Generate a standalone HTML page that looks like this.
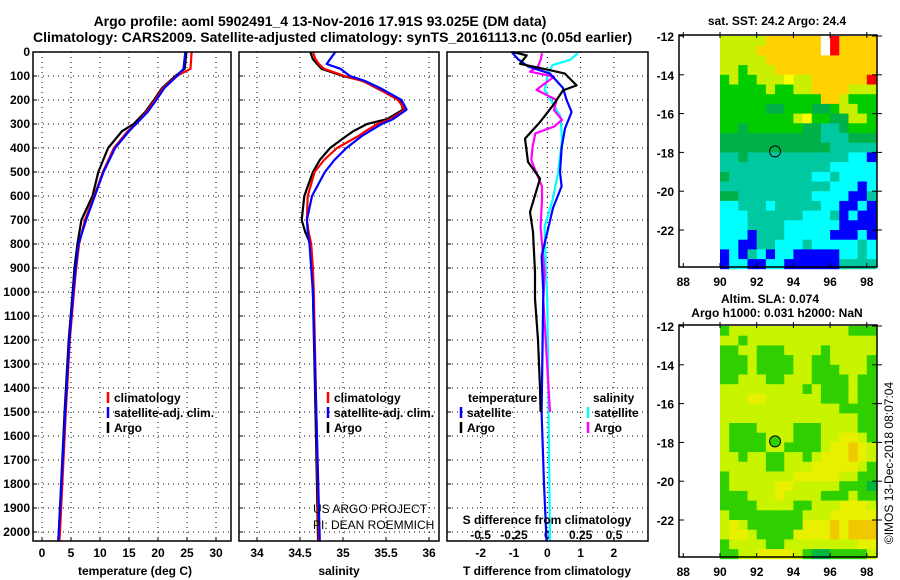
<!DOCTYPE html>
<html><head><meta charset="utf-8"><style>
body{margin:0;background:#fff}
svg{display:block;font-family:"Liberation Sans",sans-serif;font-weight:bold}
</style></head><body>
<svg id="fig" width="900" height="580" viewBox="0 0 900 580" xmlns="http://www.w3.org/2000/svg"></svg>
<script>
// ---------- data ----------
const tDepth=[0,70,100,150,200,250,300,330,400,500,600,700,800,900,1000,1200,1500,2000,2040];
const tArgo =[24.9,24.6,23.0,20.7,19.3,17.8,15.8,13.8,11.4,9.7,8.7,6.8,6.1,5.6,5.3,4.6,3.9,2.9,2.8];
const tClim =[25.8,25.6,23.2,20.9,19.5,18.0,16.2,14.8,12.4,10.5,9.0,7.4,6.4,5.9,5.5,4.8,4.1,3.1,3.0];
const tSat  =[24.7,24.4,23.3,21.1,19.7,18.2,16.2,15.0,12.6,10.6,9.1,7.6,6.3,5.8,5.4,4.7,4.0,2.9,2.8];
const sDepth=[0,30,50,70,100,120,150,200,240,280,300,330,350,400,450,500,600,700,750,800,900,1000,1500,2040];
const sArgo =[34.62,34.65,34.70,34.75,35.00,35.23,35.39,35.66,35.70,35.51,35.28,35.12,35.04,34.85,34.73,34.65,34.55,34.52,34.56,34.62,34.64,34.65,34.68,34.71];
const sClim =[34.65,34.68,34.72,34.78,35.02,35.22,35.40,35.64,35.72,35.55,35.40,35.26,35.18,34.93,34.78,34.67,34.59,34.58,34.60,34.63,34.65,34.66,34.69,34.72];
const sSat  =[34.91,34.85,34.81,34.97,35.08,35.25,35.43,35.68,35.74,35.58,35.45,35.31,35.22,35.04,34.90,34.79,34.64,34.58,34.59,34.61,34.63,34.65,34.69,34.73];
const dtArgoD=[0,14,49,76,90,139,160,222,292,361,458,528,597,667,750,917,1028,1200,1400,1500];
const dtArgo =[-1.03,-0.62,-0.82,0.08,0.53,0.88,0.47,0.17,-0.22,-0.67,-0.58,-0.22,-0.37,-0.52,-0.43,-0.37,-0.37,-0.28,-0.22,-0.2];
const dtSatD=[0,30,60,90,150,200,250,320,400,500,560,650,750,850,1000,1500,1800,2040];
const dtSat =[-1.07,-0.88,-0.58,0.08,0.47,0.58,0.73,0.53,0.43,0.38,0.43,0.17,0.0,-0.17,-0.12,-0.17,-0.1,-0.02];
const dsSatD=[5,33,54,89,158,186,269,367,506,617,728,922,1033,1500,2040];
const dsSat =[0.23,0.17,0.04,0.005,-0.02,0.01,0.1,0.11,0.08,0.04,-0.02,-0.01,0.0,0.01,0.02];
const dsArgoD=[5,33,61,82,103,144,158,200,242,283,311,339,394,450,492,561,617,728,922,1033,1500];
const dsArgo =[-0.04,-0.05,-0.07,-0.13,0.05,-0.05,-0.08,0.07,0.05,0.11,0.05,-0.09,-0.11,-0.12,-0.09,-0.04,-0.04,-0.05,-0.02,-0.03,0.02];
const sstRows=["LLLLLOOOOOOWROOOO","LLLLOOOOOOOWROOOO","LLLLLOOOOOOOOOOOO","LLGLLLOOOOOOOOOOO","GLGGLLLYLLOOOOOOR","GGGGGLGGLLOOOOLLL","GGGGGGGGGGGOOLGGG","GGGGGDDGGGDDGLLGG","GGGGGGGGLYGGDDLLG","GGDGGGGGGDDTTDGGG","DDDDDDDDDDDTTTDDD","DDDDDDDDDDDDTTTTT","TTDTTTTTTTTTTTCCB","TTTTTTTTTTTTCCCCC","DTTTTTTTTTCCTCCCC","TTTTTTTTTTTTCCCBC","DDTTTTTTTTCCCCBBT","CCTTTCTTTTTCCBBCB","CCCTTTTTTCCCTBCBB","CCCTTTTCCCCCCBBBB","CCCBTTTCCCCCBBBCB","CCBBTTCCCTCCCCCTC","BCBTCBCCBBBBBCCTC","BCCBBCCBBBBBBTTTT"];
const slaRows=["GLLLLLLLLLLLLLGGG","LLGLLLLLLLLLLLLLL","GGLLGGGLLLLGLLLLL","GGGLGGGGLLGGLLLLG","GGGLGGGGLLGGGLLLG","GGLLLGGLLLGGGGLGG","LLLLLLLLLGLGGGLGG","LLLYYLLLLLLGGGLGG","LLLLLLLLLLLLLGGGG","LLLLLLLLLLLLLLLGG","LGGGLLLLGGGLLLLGG","LGGGGLLLGGGLLYYLG","LGGGGLLGGGGLYYOYL","LLGLLGGLLGLYYYOYL","LLLLLGGLLLYYYYYLG","GLLLLLLLYYYYYLLGG","GLLLLLYYLLLLLGGGD","GGGLLLYLLLLGGGLGG","GGGGLLLLGGLLLYYYL","LGGGGGGGGLLLYYYYY","LYLGGGGGGYYYOYOOO","LYYLGGGGYYYYOYOOO","GLLLLGGLLLLLLLLYY","GGLLYYYYLGDDGGGGL"];
const depthTicks=[0,100,200,300,400,500,600,700,800,900,1000,1100,1200,1300,1400,1500,1600,1700,1800,1900,2000];
const tTicks=[0,5,10,15,20,25,30];
const sTicks=[34,34.5,35,35.5,36];
const dTTicks=[-2,-1,0,1,2];
const dSTicks=[-0.5,-0.25,0,0.25,0.5];
const latTicks=[-12,-14,-16,-18,-20,-22];
const lonTicks=[88,90,92,94,96,98];
const floatLon=93.0, floatLat=-17.95;

// ---------- scales ----------
const yD=d=>52+d*0.24;
const xT=t=>42+t*5.8;
const xS=s=>257+(s-34)*86;
const xdT=t=>547.3+t*33.3;
const xdS=s=>547.3+s*133.3;
const xLon=l=>720+(l-90)*18.35;
const yLat1=l=>36+(-12-l)*19.4;
const yLat2=l=>326+(-12-l)*19.4;

const NS="http://www.w3.org/2000/svg";
const svg=document.getElementById('fig');
function mk(tag,at,txt){const e=document.createElementNS(NS,tag);for(const k in at)e.setAttribute(k,at[k]);if(txt!==undefined)e.textContent=txt;svg.appendChild(e);return e;}
let el;

// titles
el=mk('text',{x:320,y:26,'text-anchor':'middle','font-size':14},'Argo profile: aoml 5902491_4 13-Nov-2016 17.91S 93.025E (DM data)');


el=mk('text',{x:33,y:42,'font-size':14},'Climatology: CARS2009. Satellite-adjusted climatology: synTS_20161113.nc (0.05d earlier)');



const panels=[{x0:33,x1:231,name:'temperature-panel'},{x0:239,x1:439,name:'salinity-panel'},{x0:447,x1:648,name:'difference-panel'}];
const yTop=52,yBot=541;
panels.forEach(p=>{
  depthTicks.forEach(d=>{
    el=mk('line',{x1:p.x0,x2:p.x1,y1:yD(d),y2:yD(d),stroke:'#000','stroke-width':1,'stroke-dasharray':'1 4'});
    
    
    el=mk('line',{x1:p.x0,x2:p.x0+4,y1:yD(d),y2:yD(d),stroke:'#000'});
    
    
  });
});
depthTicks.forEach(d=>{
  el=mk('text',{x:30,y:yD(d)+4,'text-anchor':'end','font-size':12},String(d));
  
  
});
function vgrid(vals,f,lab){vals.forEach(v=>{
  el=mk('line',{x1:f(v),x2:f(v),y1:yTop,y2:yBot,stroke:'#000','stroke-dasharray':'1 4'});
  
  
  el=mk('line',{x1:f(v),x2:f(v),y1:yBot-4,y2:yBot,stroke:'#000'});
  
  
  if(lab){el=mk('text',{x:f(v),y:lab,'text-anchor':'middle','font-size':12},String(v).replace(/^0\./,'0.').replace('-0.','-0.'));
  
  }
});}
vgrid(tTicks,xT,557);
vgrid(sTicks,xS,557);
vgrid(dTTicks,xdT,557);
dSTicks.forEach(v=>{
  el=mk('text',{x:xdS(v),y:539,'text-anchor':'middle','font-size':12},String(v));
  
  
});

function line(ds,vs,fx,col,name){
  const pts=ds.map((d,i)=>fx(vs[i]).toFixed(1)+','+yD(d).toFixed(1)).join(' ');
  el=mk('polyline',{points:pts,fill:'none',stroke:col,'stroke-width':2.2,'stroke-linejoin':'round'});
  
  
}
line(tDepth,tArgo,xT,'#000','temp-argo-line');
line(tDepth,tClim,xT,'#f00','temp-climatology-line');
line(tDepth,tSat,xT,'#00f','temp-satellite-line');
line(sDepth,sArgo,xS,'#000','sal-argo-line');
line(sDepth,sClim,xS,'#f00','sal-climatology-line');
line(sDepth,sSat,xS,'#00f','sal-satellite-line');
line(dsSatD,dsSat,xdS,'#0ff','sdiff-satellite-line');
line(dsArgoD,dsArgo,xdS,'#f0f','sdiff-argo-line');
line(dtSatD,dtSat,xdT,'#00f','tdiff-satellite-line');
line(dtArgoD,dtArgo,xdT,'#000','tdiff-argo-line');

panels.forEach(p=>{
  el=mk('rect',{x:p.x0,y:yTop,width:p.x1-p.x0,height:yBot-yTop,fill:'none',stroke:'#000','stroke-width':1.5});
  
  
});

// axis labels
[['temperature (deg C)',135,'temperature-axis-title'],['salinity',339,'salinity-axis-title'],['T difference from climatology',547,'tdiff-axis-title']].forEach(a=>{
  el=mk('text',{x:a[1],y:575,'text-anchor':'middle','font-size':12},a[0]);
  
  
});
el=mk('text',{x:547,y:524,'text-anchor':'middle','font-size':12},'S difference from climatology');



// legends
function leg(x,y,col,txt){
  el=mk('line',{x1:x,x2:x,y1:y-10,y2:y+1,stroke:col,'stroke-width':2.5});
  
  
  el=mk('text',{x:x+6,y:y,'font-size':12},txt);
  
  
}
leg(108,402,'#f00','climatology');leg(108,417,'#00f','satellite-adj. clim.');leg(108,432,'#000','Argo');
leg(328,402,'#f00','climatology');leg(328,417,'#00f','satellite-adj. clim.');leg(328,432,'#000','Argo');
el=mk('text',{x:468,y:402,'font-size':12},'temperature');


leg(461,417,'#00f','satellite');leg(461,432,'#000','Argo');
el=mk('text',{x:593,y:402,'font-size':12},'salinity');


leg(588,417,'#0ff','satellite');leg(588,432,'#f0f','Argo');
el=mk('text',{x:313,y:513,'font-size':12,'font-weight':'normal'},'US ARGO PROJECT');


el=mk('text',{x:313,y:529,'font-size':12,'font-weight':'normal'},'PI: DEAN ROEMMICH');



// maps
const colSST={O:'#ffd200',Y:'#ffff00',L:'#c8f000',G:'#00cc00',D:'#00b048',T:'#00c8a0',C:'#00ffff',B:'#0000ff',W:'#ffffff',R:'#ff0000'};
const colSLA={L:'#c8f400',G:'#30d000',D:'#00b840',Y:'#e8f000',O:'#f0c800'};
function drawMap(rows,cols,yLat,top,name){
  rows.forEach((r,i)=>{for(let j=0;j<r.length;j++){
    const lon=90+j*0.5, lat=-12-i*0.5;
    const x0=xLon(lon),x1=xLon(lon+0.5),y0=yLat(lat),y1=yLat(lat-0.5);
    el=mk('rect',{x:x0.toFixed(2),y:y0.toFixed(2),width:(x1-x0+0.4).toFixed(2),height:(y1-y0+0.4).toFixed(2),fill:cols[r[j]]});
    
    
  }});
  const bot=top+232;
  el=mk('rect',{x:679,y:top,width:198,height:232,fill:'none',stroke:'#000','stroke-width':1.5});
  
  
  latTicks.forEach(l=>{
    el=mk('line',{x1:679,x2:684,y1:yLat(l),y2:yLat(l),stroke:'#000'});
    
    
    el=mk('line',{x1:872,x2:882,y1:yLat(l),y2:yLat(l),stroke:'#000'});
    
    
    el=mk('text',{x:674,y:yLat(l)+5,'text-anchor':'end','font-size':12},String(l));
    
    
  });
  lonTicks.forEach(l=>{
    el=mk('line',{x1:xLon(l),x2:xLon(l),y1:bot-4,y2:bot,stroke:'#000'});
    
    
    el=mk('line',{x1:xLon(l),x2:xLon(l),y1:top-3,y2:top+3,stroke:'#000'});
    
    
    el=mk('text',{x:xLon(l),y:bot+19,'text-anchor':'middle','font-size':12},String(l));
    
    
  });
}
drawMap(sstRows,colSST,yLat1,35,'sst-map');
drawMap(slaRows,colSLA,yLat2,325,'sla-map');
el=mk('circle',{cx:xLon(floatLon),cy:yLat1(floatLat),r:5.5,fill:'none',stroke:'#000','stroke-width':1});


el=mk('circle',{cx:xLon(floatLon),cy:yLat2(floatLat),r:5.5,fill:'#30d000',stroke:'#000','stroke-width':1});


el=mk('text',{x:777,y:25,'text-anchor':'middle','font-size':12},'sat. SST: 24.2 Argo: 24.4');


el=mk('text',{x:770,y:303,'text-anchor':'middle','font-size':12},'Altim. SLA: 0.074');


el=mk('text',{x:777,y:317,'text-anchor':'middle','font-size':12},'Argo h1000: 0.031 h2000: NaN');


el=mk('text',{x:0,y:0,'text-anchor':'middle','font-size':12,'font-weight':'normal',transform:'translate(893,463) rotate(-90)'},'©IMOS 13-Dec-2018 08:07:04');


</script>
</body></html>
